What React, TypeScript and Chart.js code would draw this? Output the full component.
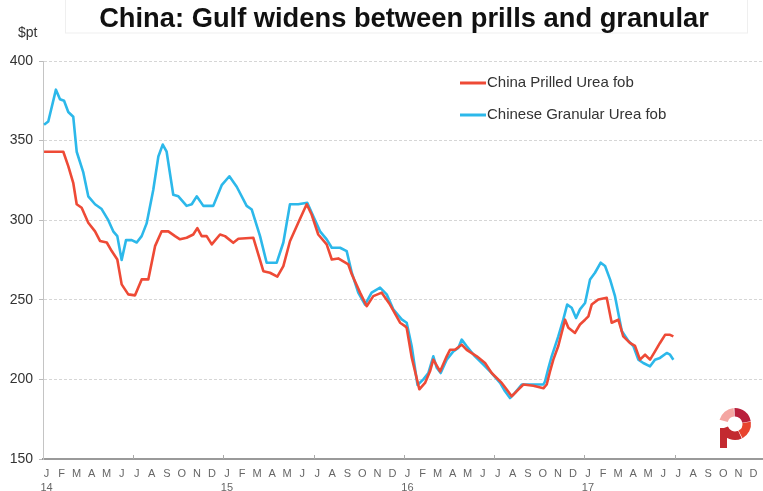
import React, { useEffect, useRef } from "react";
import { Chart, registerables } from "chart.js";

Chart.register(...registerables);

const TITLE = "China: Gulf widens between prills and granular";
const UNIT_LABEL = "$pt";
const MONTH_LETTERS = ["J", "F", "M", "A", "M", "J", "J", "A", "S", "O", "N", "D"];
const YEAR_LABELS = ["14", "15", "16", "17"];
const HALF_YEAR_MARKS = [6, 12, 18, 24, 30, 36, 42];

// time in months since 1 Jan 2014
const PRILLED_T = [0.07, 1.35, 1.68, 2.01, 2.24, 2.57, 3.01, 3.46, 3.79, 4.24, 4.57, 4.94, 5.23, 5.67, 6.12, 6.56, 7.0, 7.45, 7.89, 8.33, 8.78, 9.11, 9.55, 9.99, 10.26, 10.55, 10.88, 11.22, 11.77, 12.1, 12.65, 12.99, 13.98, 14.65, 15.09, 15.58, 15.98, 16.42, 16.97, 17.53, 17.86, 18.3, 18.86, 19.2, 19.63, 20.3, 20.53, 21.08, 21.52, 21.96, 22.52, 23.07, 23.74, 24.07, 24.18, 24.51, 25.02, 25.4, 25.73, 25.95, 26.4, 26.84, 27.06, 27.39, 27.84, 28.17, 28.84, 29.39, 29.83, 30.5, 30.83, 31.16, 31.6, 31.94, 32.6, 33.27, 33.49, 33.71, 33.93, 34.26, 34.71, 34.93, 35.37, 35.7, 36.04, 36.26, 36.48, 36.92, 37.48, 37.81, 38.25, 38.58, 39.02, 39.36, 39.69, 40.03, 40.36, 40.69, 41.02, 41.36, 41.69, 41.91];
const PRILLED_V = [343, 343, 334, 323.5, 310, 307.8, 298.4, 293, 287, 286, 280.6, 275.3, 259.7, 253.4, 252.8, 262.8, 262.8, 283.7, 293, 293, 290, 288, 289, 291, 295, 290, 290, 284.8, 291, 290, 285.8, 288.3, 289, 268, 267, 264.5, 271.2, 286.8, 298.4, 310, 303.6, 291, 284.8, 275.3, 276, 272.2, 266, 254.5, 246, 252.3, 254.5, 247, 235.6, 233.5, 232.4, 214, 193.8, 197.8, 205.1, 212.4, 205, 214.5, 218.6, 218.6, 221.8, 218.6, 214.5, 210.3, 204, 197.8, 193.6, 189.4, 193.6, 196.8, 196, 194.4, 196.8, 205, 212.4, 221, 237.5, 232.4, 229.2, 234.5, 237.5, 239.6, 247, 250.2, 251.3, 235.6, 237.5, 227, 222.9, 221, 212.4, 215.5, 212.4, 217.6, 222.9, 228, 228, 227];

const GRANULAR_T = [0.07, 0.35, 0.86, 1.13, 1.4, 1.68, 2.01, 2.24, 2.68, 3.01, 3.46, 3.9, 4.34, 4.67, 4.94, 5.23, 5.52, 5.9, 6.23, 6.56, 6.89, 7.33, 7.67, 7.96, 8.22, 8.66, 9.0, 9.55, 9.89, 10.22, 10.66, 11.32, 11.88, 12.39, 12.88, 13.54, 13.88, 14.43, 14.87, 15.54, 15.98, 16.42, 16.97, 17.57, 17.97, 18.42, 18.86, 19.2, 19.75, 20.19, 20.53, 20.96, 21.41, 21.85, 22.41, 22.85, 23.29, 23.85, 24.18, 24.51, 24.9, 25.29, 25.62, 25.95, 26.18, 26.44, 26.84, 27.28, 27.61, 27.84, 28.17, 28.72, 29.28, 29.83, 30.39, 30.72, 31.05, 31.38, 31.83, 32.6, 33.27, 33.38, 33.6, 33.82, 34.26, 34.59, 34.85, 35.15, 35.44, 35.7, 36.04, 36.37, 36.7, 37.08, 37.37, 37.7, 38.03, 38.48, 38.92, 39.25, 39.58, 39.91, 40.36, 40.69, 41.02, 41.47, 41.69, 41.91];
const GRANULAR_V = [360, 362, 382, 376, 375, 368, 365, 343, 330, 315, 310, 307, 300, 293, 290, 275, 287.5, 287.5, 286, 290, 298, 319, 340, 347.5, 343, 316, 315, 309, 310, 315, 309, 309, 322, 327.6, 321, 309, 306.7, 290, 273.3, 273.3, 286, 310, 310, 311, 302.5, 293, 288, 282.7, 282.7, 280.6, 267, 254.5, 247, 254.5, 257.6, 253.4, 244, 237.7, 235.6, 221, 196.5, 200, 204, 214.5, 207.3, 204, 212.4, 217.6, 219.8, 225, 220.8, 214.5, 209.3, 204, 197.8, 192.5, 188.3, 191.5, 196.8, 196.8, 196.8, 198.8, 207, 214.5, 227, 237.5, 247, 245, 238.6, 244, 248, 262.8, 267, 273.3, 271.2, 262.8, 252.3, 230.4, 224.1, 221, 212.4, 210.3, 208.2, 212.4, 213.5, 216.6, 215.5, 212.4];

const SERIES_NAMES = ["China Prilled Urea fob", "Chinese Granular Urea fob"];
const SERIES_COLORS = ["#ee4a36", "#2cb8ea"];

const FONT = '"Liberation Sans", Arial, sans-serif';

const decorPlugin = {
  id: "decor",
  afterDraw(chart: any) {
    const ctx = chart.ctx as CanvasRenderingContext2D;
    ctx.save();
    // title box
    ctx.strokeStyle = "#efefef";
    ctx.lineWidth = 1;
    ctx.strokeRect(65.5, -1, 682, 34);
    ctx.fillStyle = "#111";
    ctx.font = `bold 27.3px ${FONT}`;
    ctx.textAlign = "center";
    ctx.textBaseline = "alphabetic";
    ctx.fillText(TITLE, 404, 27);
    // unit
    ctx.font = `14px ${FONT}`;
    ctx.fillStyle = "#333";
    ctx.textAlign = "left";
    ctx.textBaseline = "middle";
    ctx.fillText(UNIT_LABEL, 18, 33);
    // legend
    ctx.font = `15px ${FONT}`;
    chart.data.datasets.forEach((ds: any, i: number) => {
      const y = 83 + i * 32;
      ctx.strokeStyle = ds.borderColor;
      ctx.lineWidth = 3;
      ctx.beginPath();
      ctx.moveTo(460, y);
      ctx.lineTo(486, y);
      ctx.stroke();
      ctx.fillStyle = "#333";
      ctx.fillText(ds.label, 487, y);
    });
    // half-year marks on x axis
    const xs = chart.scales.x;
    const bottom = chart.chartArea.bottom;
    ctx.strokeStyle = "#aaa";
    ctx.lineWidth = 1;
    HALF_YEAR_MARKS.forEach((v) => {
      const px = Math.round(xs.getPixelForValue(v)) + 0.5;
      ctx.beginPath();
      ctx.moveTo(px, bottom - 4);
      ctx.lineTo(px, bottom);
      ctx.stroke();
    });
    // logo
    const cx = 735, cy = 424, ro = 16, ri = 7.5;
    const seg = (a0: number, a1: number, col: string) => {
      ctx.beginPath();
      ctx.arc(cx, cy, ro, (a0 * Math.PI) / 180, (a1 * Math.PI) / 180);
      ctx.arc(cx, cy, ri, (a1 * Math.PI) / 180, (a0 * Math.PI) / 180, true);
      ctx.closePath();
      ctx.fillStyle = col;
      ctx.fill();
    };
    seg(195, 265, "#f4a6a2");
    seg(268, 350, "#b91f3c");
    seg(352, 62, "#e8432e");
    seg(65, 160, "#c32a30");
    ctx.fillStyle = "#c32a30";
    ctx.fillRect(cx - 15, cy + 4, 7, 20);
    ctx.restore();
  },
};

export default function App() {
  const ref = useRef<HTMLCanvasElement | null>(null);
  useEffect(() => {
    if (!ref.current) return;
    const chart = new Chart(ref.current, {
      type: "line",
      data: {
        datasets: [
          {
            label: SERIES_NAMES[0],
            data: PRILLED_T.map((t, i) => ({ x: t, y: PRILLED_V[i] })),
            borderColor: SERIES_COLORS[0],
            borderWidth: 2.6,
            pointRadius: 0,
            tension: 0,
            borderJoinStyle: "round",
          },
          {
            label: SERIES_NAMES[1],
            data: GRANULAR_T.map((t, i) => ({ x: t, y: GRANULAR_V[i] })),
            borderColor: SERIES_COLORS[1],
            borderWidth: 2.6,
            pointRadius: 0,
            tension: 0,
            borderJoinStyle: "round",
          },
        ],
      },
      options: {
        responsive: false,
        animation: false,
        layout: { padding: { top: 61, left: 0, right: 0, bottom: 0 } },
        plugins: { legend: { display: false }, tooltip: { enabled: false }, title: { display: false } },
        scales: {
          x: {
            type: "linear",
            min: 0,
            max: 47.87,
            afterBuildTicks: (axis: any) => {
              axis.ticks = MONTH_LETTERS.concat(MONTH_LETTERS, MONTH_LETTERS, MONTH_LETTERS).map((_, i) => ({ value: i }));
            },
            afterFit: (axis: any) => {
              axis.height = 32;
            },
            grid: { display: false, drawTicks: false, tickLength: 0 },
            border: { display: true, color: "#9a9a9a", width: 2 },
            ticks: {
              autoSkip: false,
              maxRotation: 0,
              minRotation: 0,
              labelOffset: 3.5,
              padding: 8,
              color: "#666",
              font: { family: FONT, size: 11, lineHeight: 1.3 },
              callback: (value: any) => {
                const v = Number(value);
                const letter = MONTH_LETTERS[v % 12];
                if (v % 12 === 0) return [letter, YEAR_LABELS[v / 12]];
                return letter;
              },
            },
          },
          y: {
            min: 150,
            max: 400,
            afterFit: (axis: any) => {
              axis.width = 43;
            },
            ticks: {
              stepSize: 50,
              padding: 6,
              color: "#333",
              font: { family: FONT, size: 14 },
            },
            grid: {
              color: "#d6d6d6",
              tickColor: "#bbb",
              tickLength: 4,
              drawTicks: true,
            },
            border: { display: true, color: "#c4c4c4", width: 1, dash: [3, 2] },
          },
        },
      },
      plugins: [decorPlugin],
    });
    return () => chart.destroy();
  }, []);
  return (
    <div style={{ position: "fixed", left: 0, top: 0, width: 763, height: 491, background: "#fff" }}>
      <canvas ref={ref} width={763} height={491} style={{ display: "block" }} />
    </div>
  );
}
